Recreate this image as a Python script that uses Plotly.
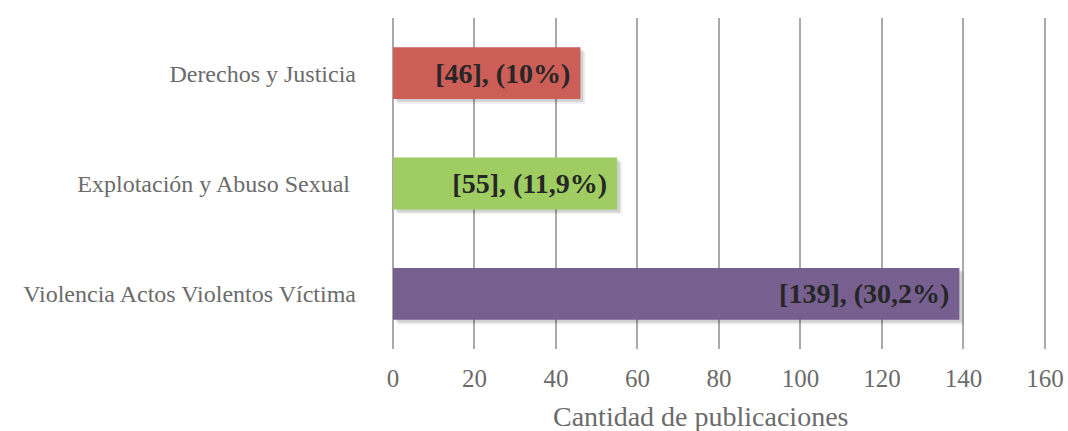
import plotly.graph_objects as go

categories = ["Violencia Actos Violentos Víctima", "Explotación y Abuso Sexual ", "Derechos y Justicia"]
values = [139, 55, 46]
percent_labels = ["30,2%", "11,9%", "10%"]
colors = ["#775f8f", "#9fcd62", "#cc5d57"]
tick_vals = [0, 20, 40, 60, 80, 100, 120, 140, 160]
x_title = "Cantidad de publicaciones"

texts = [f"[{v}], ({p}) " for v, p in zip(values, percent_labels)]
BAR_W = 0.47

fig = go.Figure()
# soft drop shadows
for shift, alpha in [(1.2, 0.07), (0.7, 0.12)]:
    fig.add_trace(go.Bar(
        y=categories, x=values, orientation="h", base=shift,
        marker=dict(color=f"rgba(0,0,0,{alpha})", line=dict(width=0)),
        width=BAR_W, offset=-BAR_W / 2 - shift * 0.035,
        hoverinfo="skip",
    ))
fig.add_trace(go.Bar(
    y=categories, x=values, orientation="h",
    marker=dict(color=colors, line=dict(width=0)),
    width=BAR_W, offset=-BAR_W / 2,
    text=texts, textposition="inside", insidetextanchor="end",
    textfont=dict(family="Liberation Serif", size=28, color="#262626", weight="bold"),
    cliponaxis=False,
))

fig.update_layout(
    width=1068, height=431,
    margin=dict(l=393, r=19, t=18, b=82),
    plot_bgcolor="white", paper_bgcolor="white",
    showlegend=False, barmode="overlay",
    font=dict(family="Liberation Serif", color="#6b6b6b"),
    uniformtext=dict(minsize=10, mode="show"),
    annotations=[dict(
        text=x_title, xref="paper", yref="paper", x=0.468, y=-0.205,
        xanchor="center", yanchor="middle", showarrow=False,
        font=dict(size=28, color="#6b6b6b", family="Liberation Serif"),
    )],
)
fig.update_xaxes(
    range=[0, 161], tickvals=tick_vals,
    showgrid=True, gridcolor="#a9a9a9", gridwidth=2,
    zeroline=True, zerolinecolor="#a9a9a9", zerolinewidth=2,
    tickfont=dict(size=25, color="#6b6b6b"),
    ticklabelstandoff=12,
    showline=False, ticks="", automargin=False,
)
fig.update_yaxes(
    tickfont=dict(size=24, color="#6b6b6b"),
    ticklabelstandoff=36,
    showgrid=False, ticks="", automargin=False,
)

fig.write_html(
    "out.html",
    config={"displayModeBar": False},
    post_script="document.body.style.margin='0';document.body.style.overflow='hidden';",
)
